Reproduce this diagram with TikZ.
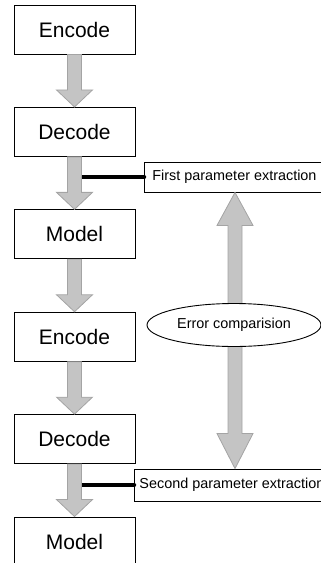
\documentclass[tikz,border=0pt]{standalone}
\usepackage{fontspec}
\setmainfont{Liberation Sans}
\usepackage{tikz}
\usetikzlibrary{positioning,shapes.geometric,calc}
\definecolor{arrowfill}{HTML}{C4C4C4}
\definecolor{arrowline}{HTML}{A4A4A4}

\begin{document}
\begin{tikzpicture}[
x=1pt,y=1pt,
node distance=52.5pt,
box/.style={draw,line width=0.9pt,minimum width=121pt,minimum height=49pt,inner sep=0pt,font=\fontsize{21}{24}\selectfont},
parbox/.style={draw,line width=0.9pt,fill=white,minimum height=30pt,inner xsep=8pt,font=\fontsize{14.4}{16}\selectfont},
downarrow/.style={fill=arrowfill,draw=arrowline,line width=0.8pt,to path={let \p1=(\tikztostart),\p2=(\tikztotarget) in
  (\x1-7pt,\y1) -- (\x1+7pt,\y1) -- (\x1+7pt,\y2+17pt) -- (\x1+18pt,\y2+17pt) -- (\x1,\y2)
  -- (\x1-18pt,\y2+17pt) -- (\x1-7pt,\y2+17pt) -- cycle}},
botharrow/.style={fill=arrowfill,draw=arrowline,line width=0.8pt,to path={let \p1=(\tikztostart),\p2=(\tikztotarget) in
  (\x1,\y1) -- (\x1+18pt,\y1-33pt) -- (\x1+7pt,\y1-33pt) -- (\x1+7pt,\y2+35pt) -- (\x1+18pt,\y2+35pt) -- (\x1,\y2)
  -- (\x1-18pt,\y2+35pt) -- (\x1-7pt,\y2+35pt) -- (\x1-7pt,\y1-33pt) -- (\x1-18pt,\y1-33pt) -- cycle}},
bar/.style={line width=4.5pt,line cap=round}
]
\useasboundingbox (0,0) rectangle (321,-563);
\clip (0,0) rectangle (321,-563);
\node[box] (enc1) at (74.5,-29.5) {Encode};
\node[box,below=of enc1] (dec1) {Decode};
\node[box,below=of dec1] (mod1) {Model};
\node[box,below=of mod1] (enc2) {Encode};
\node[box,below=of enc2] (dec2) {Decode};
\node[box,below=of dec2] (mod2) {Model};
\node[parbox,anchor=west] (par1) at (144,-177) {First parameter extraction};
\node[parbox,anchor=west,inner xsep=5pt,minimum height=32pt] (par2) at (134,-485) {Second parameter extraction};
\draw[bar] (par1.west) -- (par1.west -| dec1.south);
\draw[bar] (par2.west) -- (par2.west -| dec2.south);
\draw[downarrow] (enc1.south) to (dec1.north);
\draw[downarrow] (dec1.south) to (mod1.north);
\draw[downarrow] (mod1.south) to (enc2.north);
\draw[downarrow] (enc2.south) to (dec2.north);
\draw[downarrow] (dec2.south) to (mod2.north);
\draw[botharrow] (par1.south -| 235,0) to (par2.north -| 235,0);
\node[draw,ellipse,fill=white,line width=0.9pt,minimum width=174pt,minimum height=43pt,inner sep=0pt,font=\fontsize{14.4}{16}\selectfont] (err) at (234,-325) {Error comparision};
\end{tikzpicture}
\end{document}
